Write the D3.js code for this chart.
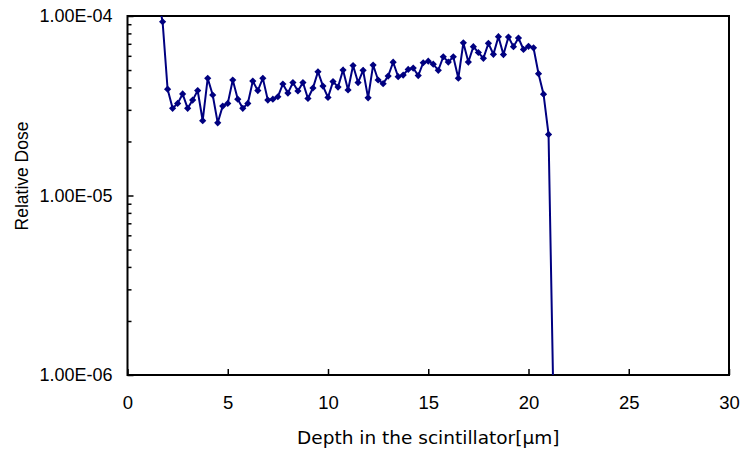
<!DOCTYPE html>
<html><head><meta charset="utf-8">
<script src="https://cdn.jsdelivr.net/npm/d3@7/dist/d3.min.js"></script>
<style>body{margin:0;background:#fff}svg{display:block}</style>
</head><body>
<svg id="chart" width="742" height="450"></svg>
<script>
const depth = [1.5,1.75,2,2.25,2.5,2.75,3,3.25,3.5,3.75,4,4.25,4.5,4.75,5,5.25,5.5,5.75,6,6.25,6.5,6.75,7,7.25,7.5,7.75,8,8.25,8.5,8.75,9,9.25,9.5,9.75,10,10.25,10.5,10.75,11,11.25,11.5,11.75,12,12.25,12.5,12.75,13,13.25,13.5,13.75,14,14.25,14.5,14.75,15,15.25,15.5,15.75,16,16.25,16.5,16.75,17,17.25,17.5,17.75,18,18.25,18.5,18.75,19,19.25,19.5,19.75,20,20.25,20.5,20.75,21,21.25];
const dose = [1.3e-4,9.29e-5,3.91e-5,3.06e-5,3.26e-5,3.68e-5,3.06e-5,3.40e-5,3.84e-5,2.61e-5,4.50e-5,3.63e-5,2.54e-5,3.15e-5,3.26e-5,4.40e-5,3.44e-5,3.06e-5,3.26e-5,4.34e-5,3.84e-5,4.50e-5,3.40e-5,3.44e-5,3.55e-5,4.18e-5,3.72e-5,4.26e-5,3.82e-5,4.26e-5,3.47e-5,3.97e-5,4.89e-5,4.07e-5,3.52e-5,4.31e-5,4.02e-5,5.00e-5,3.87e-5,5.30e-5,4.26e-5,4.98e-5,3.50e-5,5.33e-5,4.40e-5,4.20e-5,4.63e-5,5.53e-5,4.59e-5,4.69e-5,5.04e-5,5.13e-5,4.66e-5,5.49e-5,5.60e-5,5.39e-5,4.98e-5,5.93e-5,5.54e-5,5.93e-5,4.50e-5,7.09e-5,5.54e-5,6.75e-5,6.26e-5,5.81e-5,7.04e-5,6.12e-5,7.67e-5,6.10e-5,7.64e-5,6.75e-5,7.54e-5,6.51e-5,6.78e-5,6.65e-5,4.77e-5,3.67e-5,2.19e-5,6.5e-7];
const xTicks = [0,5,10,15,20,25,30];
const yTicks = [1e-6,1e-5,1e-4];
const yTickLabels = ["1.00E-06","1.00E-05","1.00E-04"];
const yMinorTicks = [2e-6,3e-6,4e-6,5e-6,6e-6,7e-6,8e-6,9e-6,2e-5,3e-5,4e-5,5e-5,6e-5,7e-5,8e-5,9e-5];
const xTitle = "Depth in the scintillator[μm]";
const yTitle = "Relative Dose";

const svg = d3.select("#chart");
const L = 127.5, R = 729, T = 16, B = 375;
const x = d3.scaleLinear().domain([0,30]).range([L,R]);
const y = d3.scaleLog().domain([1e-6,1e-4]).range([B,T]);
const pts = depth.map((d,i)=>({depth:d, dose:dose[i]}));
const navy = "#000080";

svg.append("defs").append("clipPath").attr("id","clip")
  .append("rect").attr("x",L).attr("y",T).attr("width",R-L).attr("height",B-T);

// minor ticks on y axis (inward)
svg.append("g").attr("transform",`translate(${L},0)`)
  .call(d3.axisLeft(y).tickValues(yMinorTicks).tickSize(-4).tickFormat(""))
  .call(g=>g.select(".domain").remove())
  .call(g=>g.selectAll("line").attr("stroke","#000").attr("stroke-width",1.5));

// major y axis
svg.append("g").attr("transform",`translate(${L},0)`)
  .call(d3.axisLeft(y).tickValues(yTicks).tickSize(-6).tickPadding(15)
        .tickFormat((d,i)=>yTickLabels[yTicks.indexOf(d)]))
  .call(g=>g.select(".domain").remove())
  .call(g=>g.selectAll("line").attr("stroke","#000").attr("stroke-width",1.5))
  .call(g=>g.selectAll("text").attr("fill","#000")
        .style("font-family","'Liberation Sans', Arial, sans-serif").style("font-size","18px"));

// x axis
svg.append("g").attr("transform",`translate(0,${B})`)
  .call(d3.axisBottom(x).tickValues(xTicks).tickSize(-6).tickPadding(21).tickFormat(d3.format("d")))
  .call(g=>g.select(".domain").remove())
  .call(g=>g.selectAll("line").attr("stroke","#000").attr("stroke-width",1.5))
  .call(g=>g.selectAll("text").attr("fill","#000")
        .style("font-family","'Liberation Sans', Arial, sans-serif").style("font-size","18.5px"));

// frame
svg.append("rect").attr("x",L).attr("y",T).attr("width",R-L).attr("height",B-T)
  .attr("fill","none").attr("stroke","#000").attr("stroke-width",2);

// data
const plot = svg.append("g").attr("clip-path","url(#clip)");
plot.append("path").datum(pts)
  .attr("fill","none").attr("stroke",navy).attr("stroke-width",2)
  .attr("d", d3.line().x(d=>x(d.depth)).y(d=>y(d.dose)));
plot.selectAll("path.m").data(pts).enter().append("path").attr("class","m")
  .attr("transform",d=>`translate(${x(d.depth)},${y(d.dose)}) rotate(45)`)
  .attr("d", d3.symbol(d3.symbolSquare, 26)())
  .attr("fill",navy);

// titles
svg.append("text").attr("x",(L+R)/2).attr("y",444)
  .attr("text-anchor","middle").attr("fill","#000")
  .style("font-family","'DejaVu Sans', Verdana, sans-serif").style("font-size","18.5px")
  .text(xTitle);
svg.append("text").attr("transform","translate(28,176) rotate(-90)")
  .attr("text-anchor","middle").attr("fill","#000")
  .style("font-family","'Liberation Sans', Arial, sans-serif").style("font-size","17.5px")
  .text(yTitle);
</script>
</body></html>
